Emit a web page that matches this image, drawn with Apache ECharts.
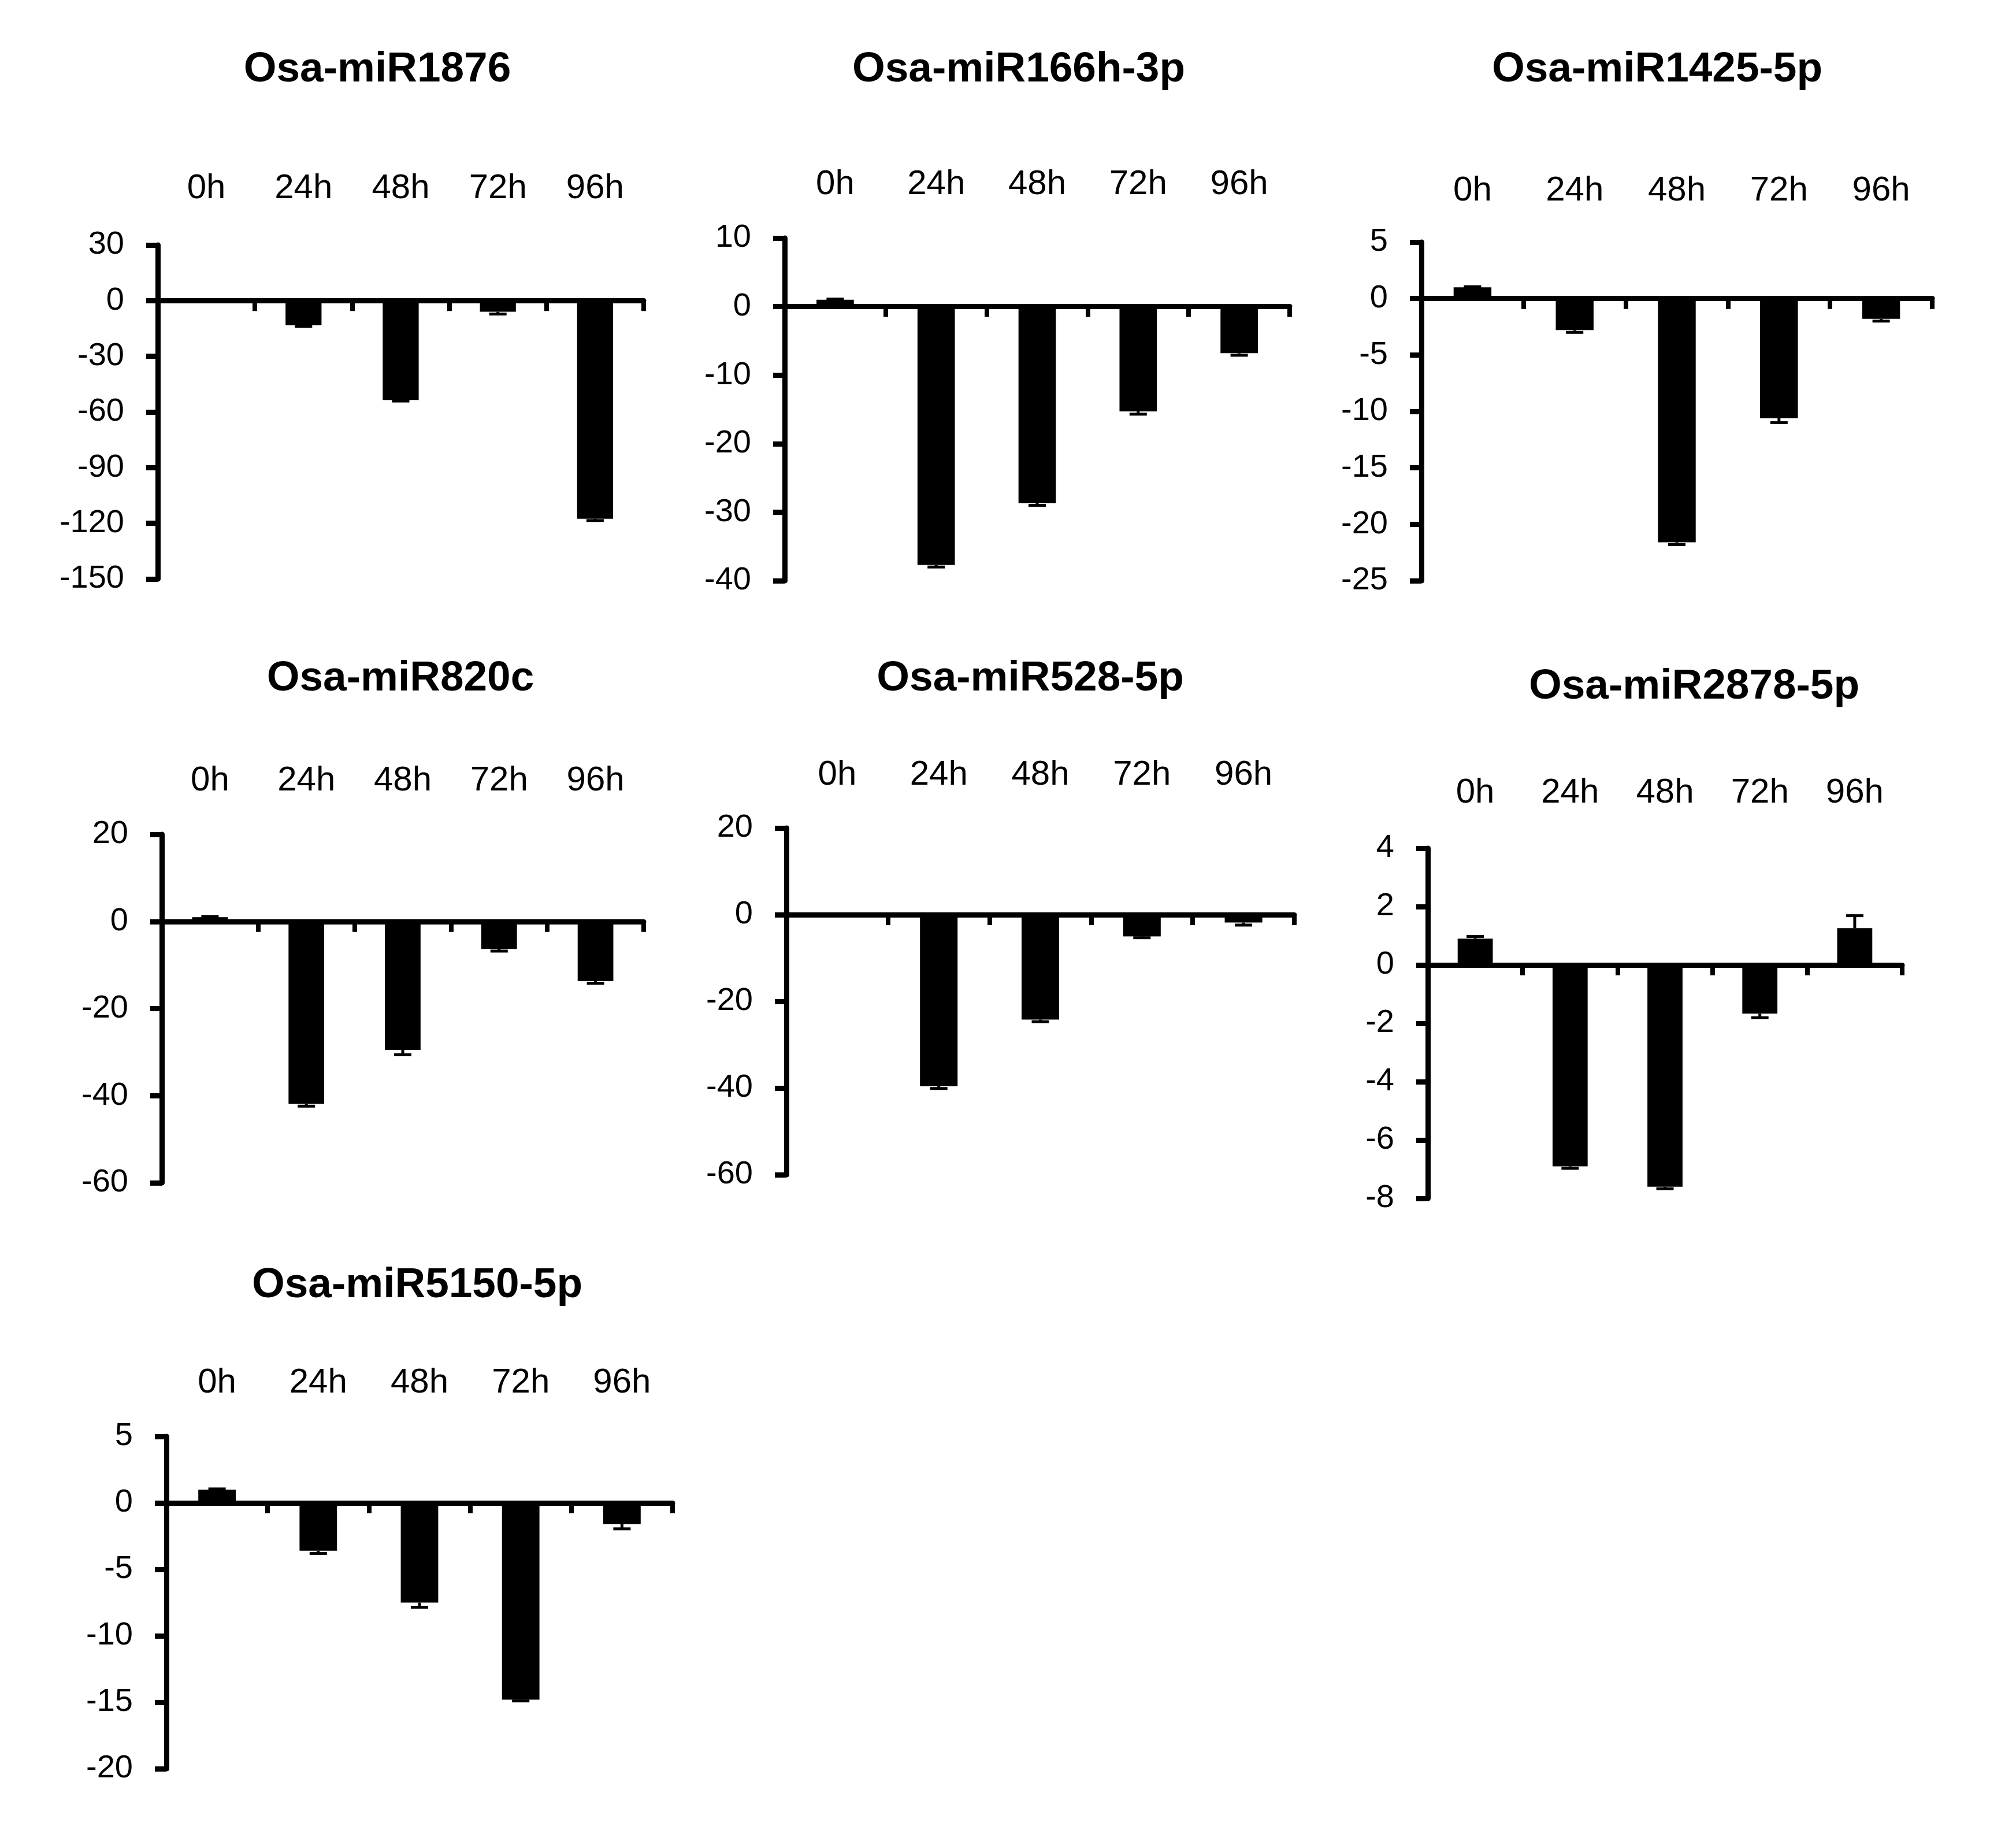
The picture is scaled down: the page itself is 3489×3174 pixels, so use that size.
<!DOCTYPE html>
<html>
<head>
<meta charset="utf-8">
<script src="https://cdn.jsdelivr.net/npm/echarts@6/dist/echarts.min.js"></script>
<style>
html,body{margin:0;padding:0;background:#fff;}
#c{width:3489px;height:3174px;}
</style>
</head>
<body>
<div id="c"></div>
<script>
// ---------- data ----------
const categories = ['0h', '24h', '48h', '72h', '96h'];
const panelTitles = ['Osa-miR1876', 'Osa-miR166h-3p', 'Osa-miR1425-5p', 'Osa-miR820c', 'Osa-miR528-5p', 'Osa-miR2878-5p', 'Osa-miR5150-5p'];

const miR1876 = [1, -13.3, -53.5, -6.0, -117.5];
const miR1876Err = [0, 0.6, 0.6, 1.2, 1.0];
const miR166h3p = [1, -37.7, -28.7, -15.3, -6.8];
const miR166h3pErr = [0.1, 0.3, 0.3, 0.4, 0.3];
const miR14255p = [1, -2.8, -21.6, -10.6, -1.8];
const miR14255pErr = [0.05, 0.2, 0.2, 0.4, 0.2];
const miR820c = [1, -41.9, -29.5, -6.3, -13.7];
const miR820cErr = [0.1, 0.5, 1.1, 0.5, 0.5];
const miR5285p = [0.5, -39.6, -24.2, -5.0, -1.8];
const miR5285pErr = [0, 0.5, 0.5, 0.3, 0.6];
const miR28785p = [0.9, -6.9, -7.6, -1.67, 1.26];
const miR28785pErr = [0.08, 0.07, 0.07, 0.14, 0.43];
const miR51505p = [1, -3.6, -7.5, -14.8, -1.6];
const miR51505pErr = [0.05, 0.2, 0.35, 0.1, 0.35];

const yMins = [-150, -40, -25, -60, -60, -8, -20];
const yMaxs = [30, 10, 5, 20, 20, 4, 5];
const yIntervals = [30, 10, 5, 20, 20, 2, 5];

const seriesValues = [miR1876, miR166h3p, miR14255p, miR820c, miR5285p, miR28785p, miR51505p];
const seriesErrors = [miR1876Err, miR166h3pErr, miR14255pErr, miR820cErr, miR5285pErr, miR28785pErr, miR51505pErr];

// ---------- layout (pixels) ----------
const layout = [
  {left: 273,  top: 424,  width: 841, height: 578, labelY: 326,  titleX: 653,  titleY: 121},
  {left: 1358, top: 412,  width: 874, height: 593, labelY: 319,  titleX: 1763, titleY: 121},
  {left: 2460, top: 419,  width: 884, height: 586, labelY: 330,  titleX: 2868, titleY: 121},
  {left: 280,  top: 1444, width: 834, height: 603, labelY: 1351, titleX: 693,  titleY: 1175},
  {left: 1361, top: 1433, width: 879, height: 600, labelY: 1341, titleX: 1783, titleY: 1175},
  {left: 2471, top: 1468, width: 821, height: 606, labelY: 1372, titleX: 2932, titleY: 1189},
  {left: 288,  top: 2486, width: 876, height: 575, labelY: 2393, titleX: 722,  titleY: 2225}
];

const FONT = "'Liberation Sans', Arial, sans-serif";

function renderErr(params, api) {
  const x = api.value(0), v = api.value(1), e = api.value(2);
  if (!e) return null;
  const end = v >= 0 ? v + e : v - e;
  const p0 = api.coord([x, v]);
  const p1 = api.coord([x, end]);
  const half = 15;
  return {
    type: 'group',
    children: [
      {type: 'line', shape: {x1: p0[0], y1: p0[1], x2: p1[0], y2: p1[1]}, style: {stroke: '#000', lineWidth: 5}},
      {type: 'line', shape: {x1: p1[0] - half, y1: p1[1], x2: p1[0] + half, y2: p1[1]}, style: {stroke: '#000', lineWidth: 5}}
    ]
  };
}

const grids = [], xAxes = [], yAxes = [], series = [], titles = [];
layout.forEach((L, i) => {
  grids.push({left: L.left, top: L.top, width: L.width, height: L.height, containLabel: false});
  titles.push({
    text: panelTitles[i], left: L.titleX, top: L.titleY, textAlign: 'center', textVerticalAlign: 'middle', padding: 0,
    textStyle: {fontFamily: FONT, fontSize: 73, fontWeight: 'bold', color: '#000'}
  });
  // axis line at zero with downward boundary ticks
  xAxes.push({
    type: 'category', gridIndex: i, data: categories, position: 'bottom',
    axisLine: {show: true, onZero: true, lineStyle: {color: '#000', width: 9}},
    axisTick: {show: true, length: 18, lineStyle: {color: '#000', width: 8}},
    axisLabel: {show: false}, splitLine: {show: false}
  });
  // category labels above the plot
  xAxes.push({
    type: 'category', gridIndex: i, data: categories, position: 'top',
    axisLine: {show: false}, axisTick: {show: false}, splitLine: {show: false},
    axisLabel: {show: true, interval: 0, margin: L.top - L.labelY, verticalAlign: 'middle',
      fontFamily: FONT, fontSize: 60, color: '#000'}
  });
  yAxes.push({
    type: 'value', gridIndex: i, min: yMins[i], max: yMaxs[i], interval: yIntervals[i],
    axisLine: {show: true, onZero: false, lineStyle: {color: '#000', width: 9}},
    axisTick: {show: true, length: 20, lineStyle: {color: '#000', width: 9}},
    splitLine: {show: false},
    axisLabel: {margin: 58, fontFamily: FONT, fontSize: 56, color: '#000'}
  });
  series.push({
    type: 'bar', xAxisIndex: 2 * i, yAxisIndex: i, data: seriesValues[i],
    barWidth: '37%', itemStyle: {color: '#000'}, silent: true, animation: false
  });
  series.push({
    type: 'custom', xAxisIndex: 2 * i, yAxisIndex: i,
    data: seriesValues[i].map((v, k) => [k, v, seriesErrors[i][k]]),
    encode: {x: 0, y: 1}, renderItem: renderErr, silent: true, animation: false, z: 3
  });
});

const chart = echarts.init(document.getElementById('c'), null, {renderer: 'canvas', width: 3489, height: 3174});
chart.setOption({
  backgroundColor: '#fff',
  animation: false,
  title: titles,
  grid: grids,
  xAxis: xAxes,
  yAxis: yAxes,
  series: series
});
</script>
</body>
</html>
